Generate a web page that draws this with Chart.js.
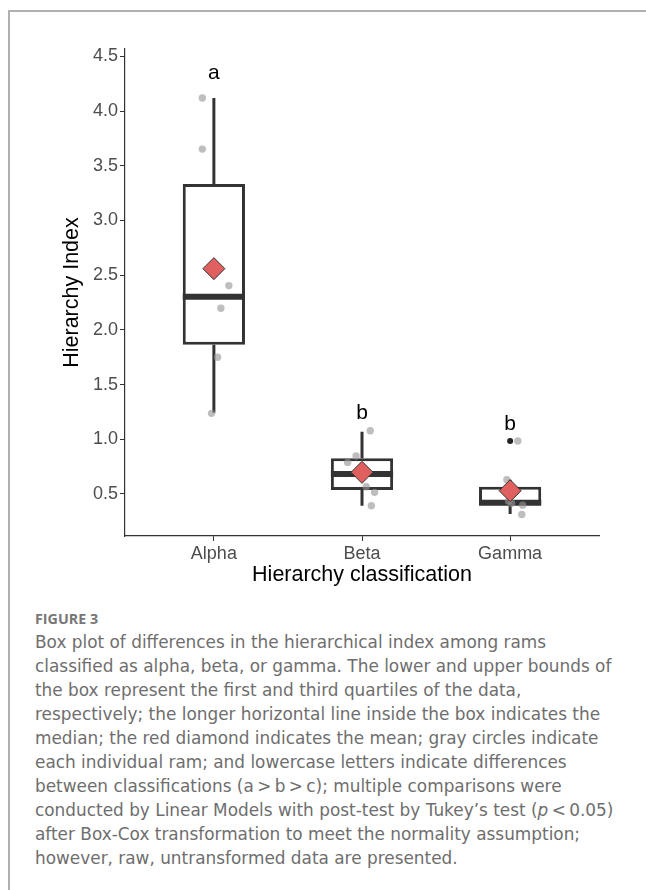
<!DOCTYPE html>
<html>
<head>
<meta charset="utf-8">
<title>Hierarchy Index box plot</title>
<script src="https://cdn.jsdelivr.net/npm/chart.js@4.4.1/dist/chart.umd.min.js"></script>
<style>
  html, body { margin: 0; padding: 0; background: #fff; }
  body { width: 646px; height: 890px; position: relative; overflow: hidden; }
  #frame {
    position: absolute; left: 8px; top: 10px; right: -4px; bottom: -4px;
    border-top: 2px solid #b0b0b0; border-left: 2px solid #b0b0b0;
  }
  #plot { position: absolute; left: 0; top: 0; width: 646px; height: 600px; }
  #fig {
    position: absolute; left: 35px; top: 610px;
    font: bold 14.3px "Open Sans", sans-serif; line-height: 17px; color: #777;
  }
  #caption {
    position: absolute; left: 35px; top: 630px; white-space: nowrap;
    font: 16.9px "DejaVu Sans", sans-serif; line-height: 24px; color: #6e6e6e;
  }
</style>
</head>
<body>
<div id="frame"></div>
<div id="plot"><canvas id="box-chart" width="646" height="600"></canvas></div>
<div id="fig">FIGURE 3</div>
<div id="caption">Box plot of differences in the hierarchical index among rams<br>classified as alpha, beta, or gamma. The lower and upper bounds of<br>the box represent the first and third quartiles of the data,<br>respectively; the longer horizontal line inside the box indicates the<br>median; the red diamond indicates the mean; gray circles indicate<br>each individual ram; and lowercase letters indicate differences<br>between classifications (a&#8201;&gt;&#8201;b&#8201;&gt;&#8201;c); multiple comparisons were<br>conducted by Linear Models with post-test by Tukey’s test (<i>p</i>&#8201;&lt;&#8201;0.05)<br>after Box-Cox transformation to meet the normality assumption;<br>however, raw, untransformed data are presented.</div>

<script>
// ------------------------------------------------------------
// DATA
// ------------------------------------------------------------
const categories = ["Alpha", "Beta", "Gamma"];

// box plot summary per class
const whiskerLow  = [1.243, 0.392, 0.316];
const q1          = [1.865, 0.536, 0.405];
const medians     = [2.304, 0.682, 0.420];
const q3          = [3.335, 0.826, 0.566];
const whiskerHigh = [4.119, 1.069, 0.630];
const means       = [2.560, 0.698, 0.530];
const outliers    = [[], [], [0.984]];

// individual rams (y) and their jitter position around the class (x)
const alphaValues = [4.120, 3.653, 2.405, 2.198, 1.750, 1.237];
const alphaJitter = [-0.078, -0.078, 0.101, 0.047, 0.025, -0.016];
const betaValues  = [1.078, 0.847, 0.789, 0.566, 0.515, 0.392];
const betaJitter  = [0.056, -0.040, -0.097, 0.029, 0.085, 0.063];
const gammaValues = [0.984, 0.630, 0.435, 0.415, 0.398, 0.313];
const gammaJitter = [0.052, -0.022, -0.011, 0.010, 0.085, 0.079];

// significance letters and where they sit (baseline, in index units)
const letters = ["a", "b", "b"];
const letterY = [4.293, 1.183, 1.085];

const yTicks = [0.5, 1.0, 1.5, 2.0, 2.5, 3.0, 3.5, 4.0, 4.5];

// ------------------------------------------------------------
// HELPERS
// ------------------------------------------------------------
const BOX_WIDTH = 0.42;           // box width in category units
const INK = "#333333";

function toPoints(values, jitter, idx) {
    return values.map((v, k) => ({ x: idx + jitter[k], y: v }));
}

const allPoints = [
    ...toPoints(alphaValues, alphaJitter, 0),
    ...toPoints(betaValues, betaJitter, 1),
    ...toPoints(gammaValues, gammaJitter, 2)
];

// whiskers: q3 -> high and q1 -> low, gaps between segments
const whiskerSegments = categories.flatMap((c, i) => [
    { x: i, y: q3[i] }, { x: i, y: whiskerHigh[i] }, { x: i, y: null },
    { x: i, y: q1[i] }, { x: i, y: whiskerLow[i] }, { x: i, y: null }
]);

const medianSegments = categories.flatMap((c, i) => [
    { x: i - BOX_WIDTH / 2, y: medians[i] },
    { x: i + BOX_WIDTH / 2, y: medians[i] },
    { x: i, y: null }
]);

const outlierPoints = outliers.flatMap((arr, i) => arr.map(v => ({ x: i, y: v })));

// letters above each box
const letterPlugin = {
    id: "letters",
    afterDatasetsDraw(chart) {
        const { ctx, scales } = chart;
        ctx.save();
        ctx.fillStyle = "#000";
        ctx.font = '21px "Liberation Sans", Arial, sans-serif';
        ctx.textAlign = "center";
        ctx.textBaseline = "alphabetic";
        letters.forEach((t, i) => {
            ctx.fillText(t, scales.x.getPixelForValue(i), scales.y.getPixelForValue(letterY[i]));
        });
        ctx.restore();
    }
};

// ------------------------------------------------------------
// INIT CHART
// ------------------------------------------------------------
function initBoxChart() {
    const ctx = document.getElementById("box-chart").getContext("2d");

    new Chart(ctx, {
        type: "bar",
        data: {
            datasets: [
                {
                    type: "scatter",
                    label: "Mean",
                    data: means.map((m, i) => ({ x: i, y: m })),
                    pointStyle: "rectRot",
                    pointRadius: 11,
                    backgroundColor: "#E05F5F",
                    borderColor: INK,
                    borderWidth: 1,
                    order: 0
                },
                {
                    type: "scatter",
                    label: "Rams",
                    data: allPoints,
                    pointRadius: 3.7,
                    backgroundColor: "rgba(150,150,150,0.62)",
                    borderWidth: 0,
                    order: 1
                },
                {
                    type: "scatter",
                    label: "Outlier",
                    data: outlierPoints,
                    pointRadius: 3,
                    backgroundColor: "#222",
                    borderWidth: 0,
                    order: 2
                },
                {
                    type: "line",
                    label: "Median",
                    data: medianSegments,
                    borderColor: INK,
                    borderWidth: 6,
                    borderCapStyle: "butt",
                    pointRadius: 0,
                    spanGaps: false,
                    order: 3
                },
                {
                    type: "bar",
                    label: "IQR",
                    data: categories.map((c, i) => ({ x: i, y: [q1[i], q3[i]] })),
                    backgroundColor: "#fff",
                    borderColor: INK,
                    borderWidth: 3,
                    borderSkipped: false,
                    categoryPercentage: 1,
                    barPercentage: BOX_WIDTH,
                    order: 4
                },
                {
                    type: "line",
                    label: "Whisker",
                    data: whiskerSegments,
                    borderColor: INK,
                    borderWidth: 3,
                    borderCapStyle: "butt",
                    pointRadius: 0,
                    spanGaps: false,
                    order: 5
                }
            ]
        },
        options: {
            responsive: false,
            animation: false,
            events: [],
            layout: { padding: { left: 0, top: 49, right: 47, bottom: 0 } },
            plugins: {
                legend: { display: false },
                tooltip: { enabled: false }
            },
            scales: {
                x: {
                    type: "linear",
                    min: -0.6,
                    max: 2.6,
                    offset: false,
                    afterBuildTicks(scale) {
                        scale.ticks = categories.map((c, i) => ({ value: i }));
                    },
                    afterFit(scale) { scale.height = 64; },
                    ticks: {
                        callback: v => categories[v],
                        color: "#4D4D4D",
                        font: { family: '"Liberation Sans", Arial, sans-serif', size: 18 },
                        padding: 2,
                        maxRotation: 0
                    },
                    grid: { display: true, offset: false, drawOnChartArea: false, drawTicks: true, tickLength: 5, color: INK },
                    border: { display: true, color: INK, width: 1.2 },
                    title: {
                        display: true,
                        text: "Hierarchy classification",
                        color: "#000",
                        font: { family: '"Liberation Sans", Arial, sans-serif', size: 21.5 },
                        padding: { top: 0, bottom: 12.4 }
                    }
                },
                y: {
                    min: 0.116,
                    max: 4.568,
                    afterBuildTicks(scale) {
                        scale.ticks = yTicks.map(v => ({ value: v }));
                    },
                    afterFit(scale) { scale.width = 125; },
                    ticks: {
                        callback: v => v.toFixed(1),
                        color: "#4D4D4D",
                        font: { family: '"Liberation Sans", Arial, sans-serif', size: 18 },
                        padding: 2
                    },
                    grid: { display: true, drawOnChartArea: false, drawTicks: true, tickLength: 5, color: INK },
                    border: { display: true, color: INK, width: 1.2 },
                    title: {
                        display: true,
                        text: "Hierarchy Index",
                        color: "#000",
                        font: { family: '"Liberation Sans", Arial, sans-serif', size: 21.5 },
                        padding: { top: 59, bottom: 0 }
                    }
                }
            }
        },
        plugins: [letterPlugin]
    });
}

document.addEventListener("DOMContentLoaded", initBoxChart);
</script>
</body>
</html>
